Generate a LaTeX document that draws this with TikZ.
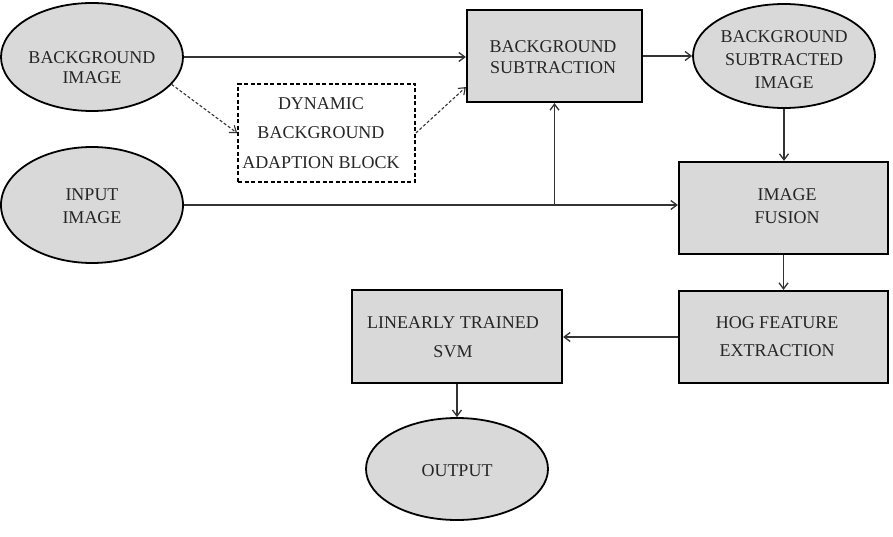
\documentclass[tikz,border=0pt]{standalone}
\usepackage{fontspec}
\setmainfont{Liberation Serif}
\usetikzlibrary{shapes.geometric,arrows.meta,calc}
\definecolor{boxfill}{HTML}{D9D9D9}
\definecolor{linecol}{HTML}{333333}
\tikzset{
  ell/.style={ellipse,draw=black,line width=1.8pt,fill=boxfill,inner sep=0pt},
  blk/.style={rectangle,draw=black,line width=2.2pt,fill=boxfill,inner sep=0pt},
  dynblk/.style={rectangle,draw=black,line width=1.8pt,dash pattern=on 4pt off 2.5pt,fill=white,inner sep=0pt},
  txt/.style={align=center,inner sep=0pt,text=black!85},
  arr/.style={draw=linecol,line width=1.3pt,-{Straight Barb[length=6pt,width=9pt]}},
  darr/.style={arr,line width=1.1pt,dash pattern=on 3pt off 2pt}
}
\begin{document}
\begin{tikzpicture}[x=1pt,y=-1pt]
\useasboundingbox (0,0) rectangle (893,537);
% shapes
\node[ell,minimum width=182pt,minimum height=108pt] (bgi) at (92,57) {};
\node[ell,minimum width=182pt,minimum height=116pt] (inp) at (92,205) {};
\node[blk,minimum width=175pt,minimum height=92pt] (bs) at (554.5,56) {};
\node[ell,minimum width=182pt,minimum height=104pt] (bsi) at (784,56) {};
\node[dynblk,minimum width=177pt,minimum height=98pt] (dyn) at (326.5,133) {};
\node[blk,minimum width=209pt,minimum height=92pt] (fus) at (783.5,208) {};
\node[blk,minimum width=209pt,minimum height=92pt] (hog) at (783.5,337) {};
\node[blk,minimum width=210pt,minimum height=93pt] (svm) at (457,336.5) {};
\node[ell,minimum width=182pt,minimum height=102pt] (out) at (457,469) {};
% texts
\node[txt,font=\fontsize{18}{20}\selectfont] (tbgi) at (92,68) {BACKGROUND\\IMAGE};
\node[txt,font=\fontsize{18}{23}\selectfont] (tinp) at (92,206) {INPUT\\IMAGE};
\node[txt,font=\fontsize{18}{21}\selectfont] (tbs) at (553,57) {BACKGROUND\\SUBTRACTION};
\node[txt,font=\fontsize{18}{23}\selectfont] (tbsi) at (784,60) {BACKGROUND\\SUBTRACTED\\IMAGE};
\node[txt,font=\fontsize{18}{29.5}\selectfont] (tdyn) at (321,133) {DYNAMIC\\BACKGROUND\\ADAPTION BLOCK};
\node[txt,font=\fontsize{18}{23}\selectfont] (tfus) at (787,206) {IMAGE\\FUSION};
\node[txt,font=\fontsize{18}{28}\selectfont] (thog) at (777,337) {HOG FEATURE\\EXTRACTION};
\node[txt,font=\fontsize{18}{29}\selectfont] (tsvm) at (453,337) {LINEARLY TRAINED\\SVM};
\node[txt,font=\fontsize{18}{22}\selectfont] (tout) at (457,471) {OUTPUT};
% connectors
\coordinate (j) at (bs.south |- inp.east);
\draw[arr] (bgi.east) -- (bgi.east -| bs.west);
\draw[darr] (bgi.-19) -- (dyn.west);
\draw[darr] (dyn.east) -- ($(bs.south west)!0.17!(bs.north west)$);
\draw[arr] (inp.east) -- (inp.east -| fus.west);
\draw[arr] (j) -- (bs.south);
\draw[arr] (bs.east) -- (bs.east -| bsi.west);
\draw[arr] (bsi.south) -- (bsi.south |- fus.north);
\draw[arr] (fus.south) -- (hog.north);
\draw[arr] (hog.west) -- (hog.west -| svm.east);
\draw[arr] (svm.south) -- (out.north);
\end{tikzpicture}
\end{document}
